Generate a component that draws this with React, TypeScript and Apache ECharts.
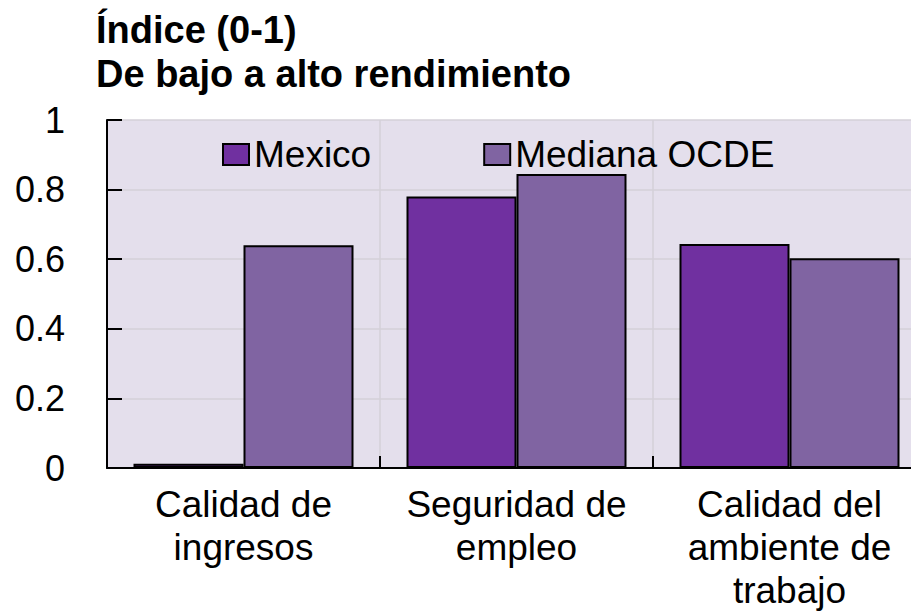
import React, { useEffect, useRef } from "react";
import * as echarts from "echarts";

const categories = ["Calidad de\ningresos", "Seguridad de\nempleo", "Calidad del\nambiente de\ntrabajo"];
const mexico = [0.012, 0.78, 0.644];
const ocde = [0.64, 0.845, 0.603];
const yTicks = [0, 0.2, 0.4, 0.6, 0.8, 1];
const titleLines = ["Índice (0-1)", "De bajo a alto rendimiento"];

const FONT = "'Liberation Sans', Arial, sans-serif";
const CHART_W = 940;

export default function App() {
  const ref = useRef<HTMLDivElement>(null);
  useEffect(() => {
    if (!ref.current) return;
    const chart = echarts.init(ref.current, undefined, { renderer: "svg" });
    chart.setOption({
      animation: false,
      backgroundColor: "#ffffff",
      textStyle: { fontFamily: FONT },
      title: [
        {
          text: titleLines[0],
          left: 91,
          top: 6,
          textStyle: { fontFamily: FONT, fontSize: 38, fontWeight: "bold", color: "#000" },
        },
        {
          text: titleLines[1],
          left: 91,
          top: 50,
          textStyle: { fontFamily: FONT, fontSize: 38, fontWeight: "bold", color: "#000" },
        },
      ],
      legend: {
        left: 217,
        top: 131,
        itemWidth: 26,
        itemHeight: 21,
        itemGap: 112,
        icon: "rect",
        textStyle: { fontFamily: FONT, fontSize: 37, color: "#000", padding: [0, 0, 0, 0] },
        data: ["Mexico", "Mediana OCDE"],
        itemStyle: { borderColor: "#000", borderWidth: 2 },
      },
      grid: {
        left: 107,
        top: 120,
        bottom: 146,
        right: CHART_W - 107 - 819,
        show: true,
        backgroundColor: "#E4DFEC",
        borderWidth: 0,
        containLabel: false,
      },
      xAxis: {
        type: "category",
        data: categories,
        axisLine: { show: true, lineStyle: { color: "#000", width: 2 } },
        axisTick: { show: true, inside: true, length: 12, lineStyle: { color: "#000", width: 2 } },
        axisLabel: {
          fontFamily: FONT,
          fontSize: 37,
          color: "#000",
          margin: 15,
          lineHeight: 43,
          interval: 0,
        },
        splitLine: { show: true, lineStyle: { color: "#D4D0D8", width: 1.5 } },
      },
      yAxis: {
        type: "value",
        min: 0,
        max: 1,
        interval: 0.2,
        axisLine: { show: true, lineStyle: { color: "#000", width: 2 } },
        axisTick: { show: true, inside: true, length: 15, lineStyle: { color: "#000", width: 2 } },
        axisLabel: {
          fontFamily: FONT,
          fontSize: 36,
          color: "#000",
          margin: 42,
          formatter: (v: number) => {
            const t = yTicks.find((x) => Math.abs(x - v) < 1e-9);
            return t === undefined ? "" : String(t);
          },
        },
        splitLine: { show: true, lineStyle: { color: "#D4D0D8", width: 1.5 } },
      },
      series: [
        {
          name: "Mexico",
          type: "bar",
          data: mexico,
          barWidth: 110,
          barGap: "0%",
          itemStyle: { color: "#7030A0", borderColor: "#000", borderWidth: 2 },
        },
        {
          name: "Mediana OCDE",
          type: "bar",
          data: ocde,
          barWidth: 110,
          barGap: "0%",
          itemStyle: { color: "#8064A2", borderColor: "#000", borderWidth: 2 },
        },
      ],
    });
    return () => chart.dispose();
  }, []);
  return (
    <div style={{ position: "fixed", left: 0, top: 0, width: 911, height: 614, overflow: "hidden" }}>
      <div ref={ref} style={{ width: CHART_W, height: 614 }} />
    </div>
  );
}
